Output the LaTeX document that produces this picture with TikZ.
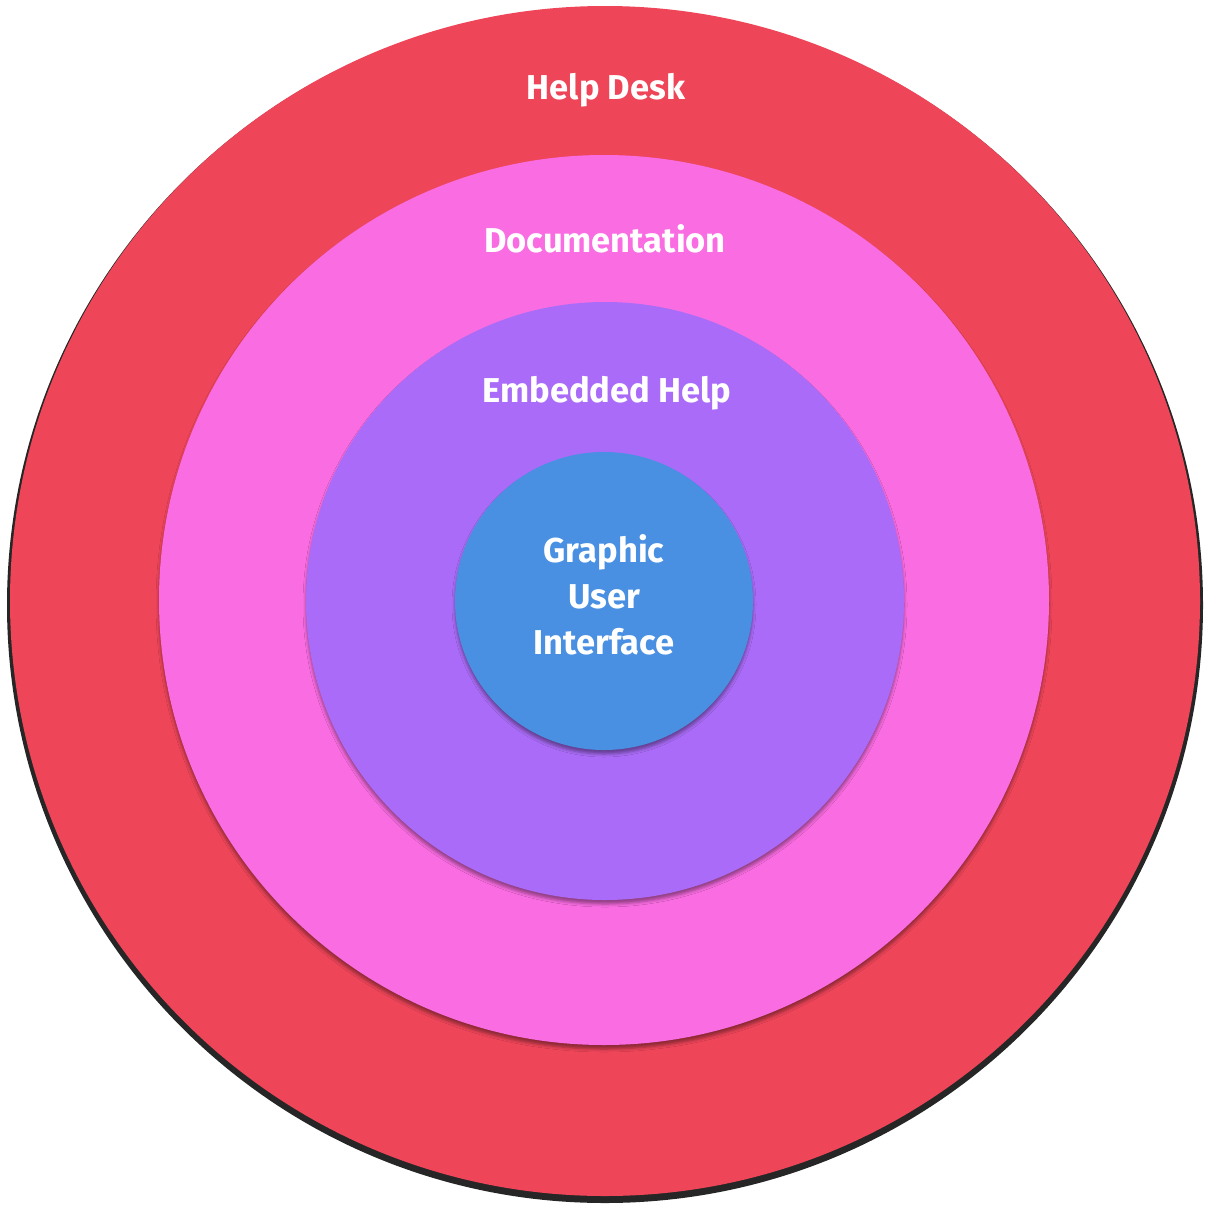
\documentclass[tikz,border=0pt]{standalone}
\usepackage{fontspec}
\setmainfont{Fira Sans}
\usetikzlibrary{shadows.blur}
\definecolor{ringred}{HTML}{EE4559}
\definecolor{ringpink}{HTML}{F96CE2}
\definecolor{ringpurple}{HTML}{AA6CF8}
\definecolor{ringblue}{HTML}{4A90E2}
\tikzset{
  ring/.style={circle, inner sep=0pt, outer sep=0pt,
    blur shadow={shadow xshift=0pt, shadow yshift=-4pt,
      shadow blur radius=3pt, shadow opacity=40}},
  label text/.style={text=white, font=\bfseries\fontsize{34.5}{46}\selectfont,
    align=center, inner sep=0pt}
}
\begin{document}
\begin{tikzpicture}[x=1pt,y=-1pt]
  \useasboundingbox (0,0) rectangle (1210,1210);
  % outer disc with its dark drop shadow
  \fill[black, opacity=0.85] (605,605) circle (598);
  \node[circle, fill=ringred, minimum size=1190pt, inner sep=0pt] (hd) at (605,601) {};
  \node[ring, fill=ringpink, minimum size=890pt] (doc) at (604,600) {};
  \node[ring, fill=ringpurple, minimum size=598pt] (emb) at (605,601) {};
  \node[ring, fill=ringblue, minimum size=298pt] (gui) at (604,601) {};
  % ring titles
  \node[label text] (hdt) at (606,90) {Help Desk};
  \node[label text] (doct) at (605,239) {Documentation};
  \node[label text] (embt) at (607,393) {Embedded Help};
  \node[label text] (guit) at (604,595) {Graphic\\User\\Interface};
\end{tikzpicture}
\end{document}
